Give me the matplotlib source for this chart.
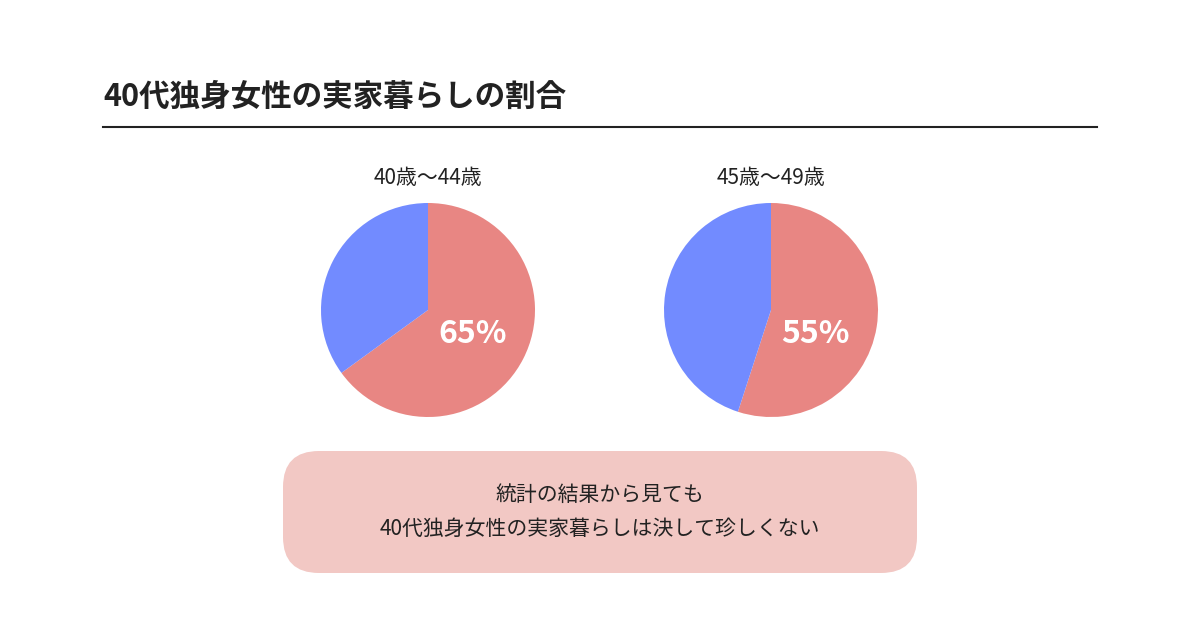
import matplotlib.pyplot as plt
from matplotlib.patches import FancyBboxPatch

plt.rcParams['font.family'] = 'Noto Sans CJK JP'

title = '40代独身女性の実家暮らしの割合'
groups = ['40歳～44歳', '45歳～49歳']
living_at_home = [65, 55]
other = [35, 45]
note = '統計の結果から見ても\n40代独身女性の実家暮らしは決して珍しくない'

W, H = 1200, 630
fig = plt.figure(figsize=(12, 6.3), dpi=100)
fig.patch.set_facecolor('white')

fig.text(103 / W, 1 - 97 / H, title, fontsize=22, fontweight='bold',
         color='#222222', va='center', ha='left')
fig.add_artist(plt.Line2D([103 / W, 1097 / W], [1 - 127 / H] * 2,
                          color='#222222', lw=1.5))

centers = [428, 771]
r = 107
for cx, g, a, b in zip(centers, groups, living_at_home, other):
    ax = fig.add_axes([(cx - r) / W, 1 - (310 + r) / H, 2 * r / W, 2 * r / H])
    ax.pie([a, b], colors=['#E88683', '#728BFF'], startangle=90,
           counterclock=False, radius=1)
    ax.set_xlim(-1, 1)
    ax.set_ylim(-1, 1)
    ax.set_aspect('equal')
    ax.text(0.42, -0.22, f'{a}%', color='white', fontsize=23,
            fontweight='bold', ha='center', va='center')
    fig.text(cx / W, 1 - 178 / H, g, fontsize=15, ha='center', va='center',
             color='#222222')

box = FancyBboxPatch((283 / W, 1 - 573 / H), 634 / W, 122 / H,
                     boxstyle='round,pad=0,rounding_size=0.03',
                     transform=fig.transFigure, facecolor='#F2C8C4',
                     edgecolor='none', mutation_aspect=W / H)
fig.add_artist(box)
fig.text(600 / W, 1 - 512 / H, note, fontsize=15, ha='center', va='center',
         color='#222222', linespacing=1.7)

fig.savefig('out.png', dpi=100)
